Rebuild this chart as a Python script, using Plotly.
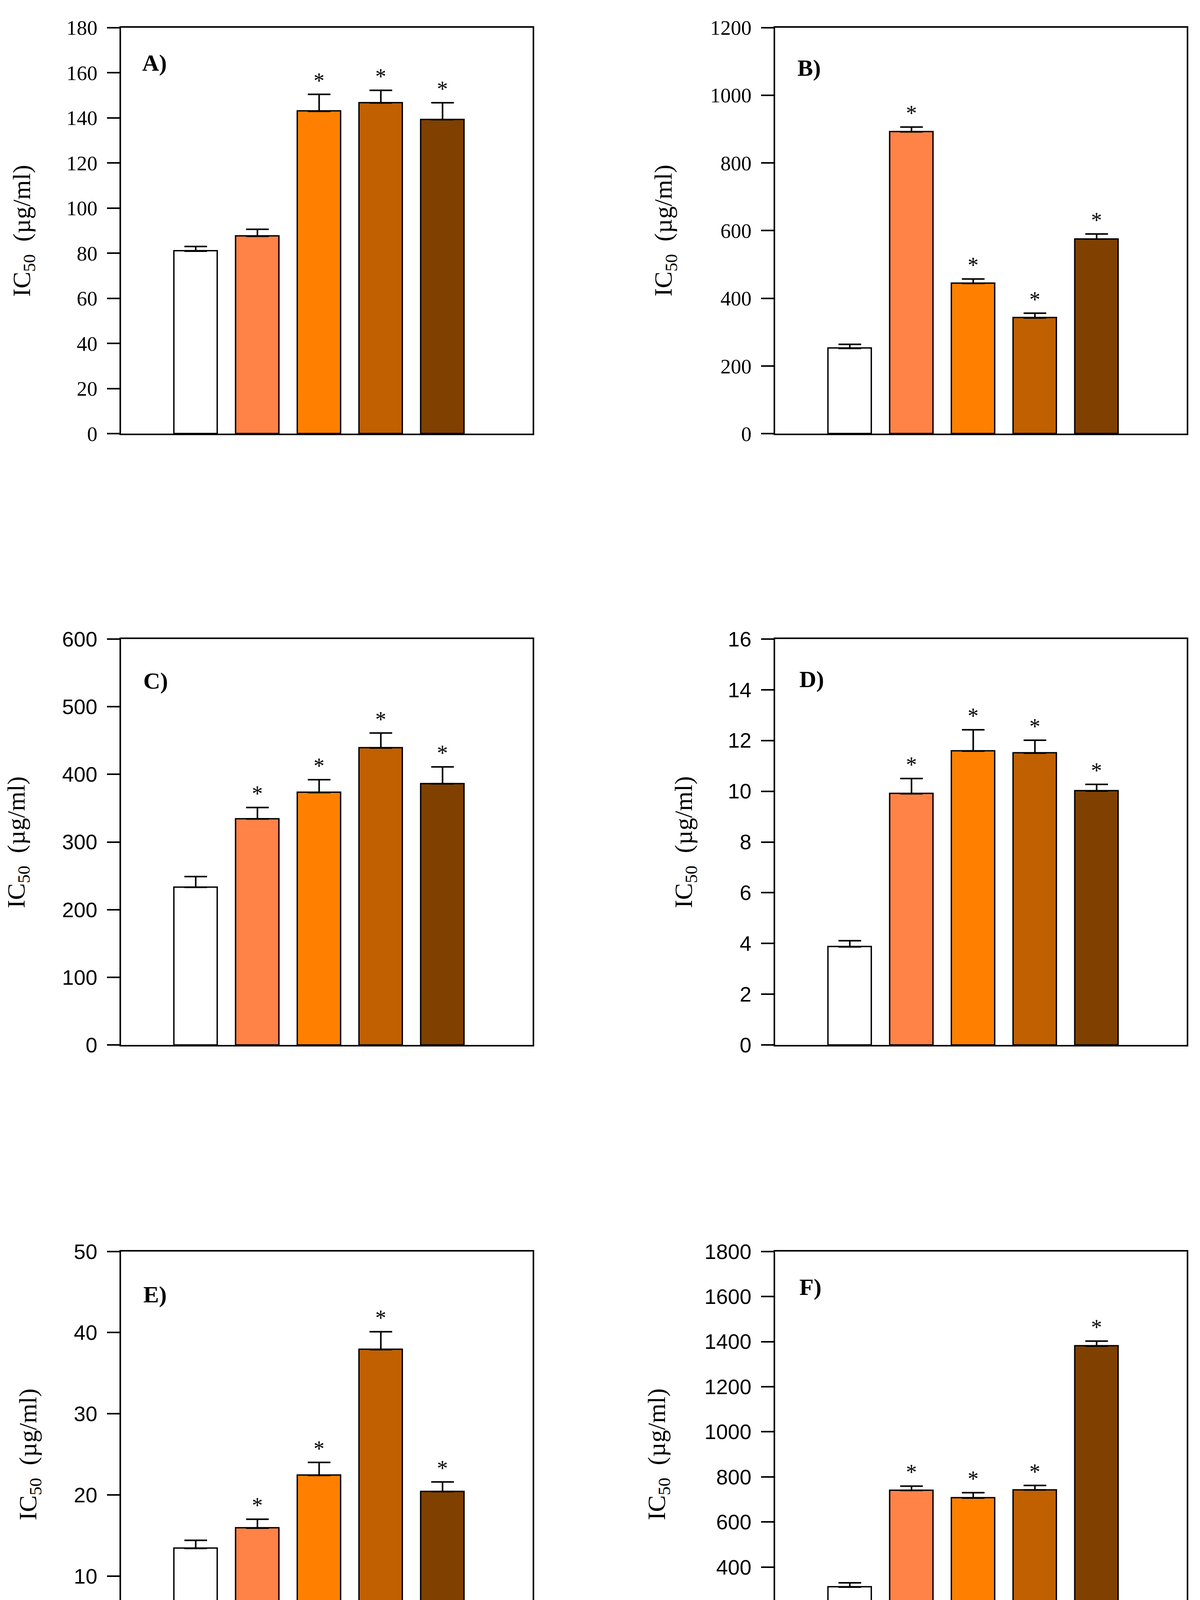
import plotly.graph_objects as go
from plotly.subplots import make_subplots

# === datos ===
groups = ["CTR", "C 123", "C 127", "C 129", "C 132"]
colors = ["#FFFFFF", "#FF8247", "#FF8000", "#C06000", "#804000"]

vals_a = [80.9, 87.5, 142.9, 146.6, 139.2]
errs_a = [2.1, 3.1, 7.5, 5.6, 7.5]
sig_a = [False, False, True, True, True]

vals_b = [252, 892, 444, 342, 575]
errs_b = [12, 14, 13, 14, 15]
sig_b = [False, True, True, True, True]

vals_c = [233, 334, 373, 439, 386]
errs_c = [16, 17, 19, 22, 25]
sig_c = [False, True, True, True, True]

vals_d = [3.87, 9.90, 11.58, 11.50, 10.01]
errs_d = [0.24, 0.60, 0.84, 0.51, 0.26]
sig_d = [False, True, True, True, True]

vals_e = [13.4, 15.9, 22.4, 37.9, 20.4]
errs_e = [1.0, 1.1, 1.6, 2.2, 1.2]
sig_e = [False, True, True, True, True]

vals_f = [311, 740, 706, 742, 1380]
errs_f = [19, 19, 24, 20, 22]
sig_f = [False, True, True, True, True]

panel_labels = ["A)", "B)", "C)", "D)", "E)", "F)"]
y_max = [180, 1200, 600, 16, 50, 1800]
y_step = [20, 200, 100, 2, 10, 200]

panels = [
    (vals_a, errs_a, sig_a),
    (vals_b, errs_b, sig_b),
    (vals_c, errs_c, sig_c),
    (vals_d, errs_d, sig_d),
    (vals_e, errs_e, sig_e),
    (vals_f, errs_f, sig_f),
]

# === tamaño y posiciones (px) ===
W, H = 3073, 4769
OFF = 8  # margen del body en la pagina html
col_x = [(310, 1364), (1985, 3039)]
row_y = [(41, 1094), (1626, 2679), (3214, 4266)]
title_x = [-0.237, -0.267, -0.251, -0.219, -0.222, -0.284]
label_pos = [(0.049, 0.913), (0.052, 0.901), (0.052, 0.897),
             (0.057, 0.901), (0.052, 0.894), (0.057, 0.912)]

SERIF = "Liberation Serif, Times New Roman, serif"
SANS = "Liberation Sans, Arial, sans-serif"

fig = make_subplots(rows=3, cols=2)

xpos = list(range(len(groups)))

for i, (vals, errs, sig) in enumerate(panels):
    r, c = i // 2 + 1, i % 2 + 1
    fig.add_trace(go.Bar(
        x=xpos, y=vals,
        width=0.70,
        marker=dict(color=colors, line=dict(color="black", width=3.5)),
        error_y=dict(type="data", array=errs, arrayminus=[0] * len(errs),
                     symmetric=False, color="black", thickness=4, width=29),
        showlegend=False,
    ), row=r, col=c)

    n = "" if i == 0 else str(i + 1)
    xref, yref = "x" + n, "y" + n

    # asteriscos de significancia
    for k, (v, e, s) in enumerate(zip(vals, errs, sig)):
        if s:
            fig.add_annotation(x=xpos[k], y=v + e, xref=xref, yref=yref,
                               text="*", showarrow=False, yanchor="bottom",
                               yshift=2, font=dict(family=SERIF, size=56, color="black"))

    # etiqueta del panel
    lx, ly = label_pos[i]
    fig.add_annotation(x=lx, y=ly, xref=xref + " domain", yref=yref + " domain",
                       text="<b>" + panel_labels[i] + "</b>", showarrow=False,
                       xanchor="left", yanchor="middle",
                       font=dict(family=SERIF, size=60, color="black"))

    # titulo eje y
    fig.add_annotation(x=title_x[i], y=0.5, xref=xref + " domain", yref=yref + " domain",
                       text="IC<sub>50</sub>  (µg/ml)", showarrow=False,
                       textangle=-90, xanchor="center", yanchor="middle",
                       font=dict(family=SERIF, size=64, color="black"))

    x0, x1 = col_x[c - 1]
    y0, y1 = row_y[r - 1]
    fig.update_xaxes(domain=[(x0 - OFF) / W, (x1 - OFF) / W], range=[-1.21, 5.46],
                     showticklabels=False, ticks="", showgrid=False, zeroline=False,
                     showline=True, linecolor="black", linewidth=4, mirror=True,
                     row=r, col=c)
    tick_font = SERIF if i < 2 else SANS
    tick_size = 53 if i < 2 else 54
    fig.update_yaxes(domain=[1 - (y1 - OFF) / H, 1 - (y0 - OFF) / H], range=[0, y_max[i]],
                     dtick=y_step[i], tick0=0, ticks="outside", ticklen=32,
                     tickwidth=4, tickcolor="black", ticklabelstandoff=14,
                     tickfont=dict(family=tick_font, size=tick_size, color="black"),
                     showgrid=False, zeroline=False,
                     showline=True, linecolor="black", linewidth=4, mirror=True,
                     row=r, col=c)

# === leyenda manual ===
leg_x0, leg_x1, leg_text_x = 1463, 1611, 1650
leg_y = [4370, 4454, 4537, 4621, 4705]
for name, col, yc in zip(groups, colors, leg_y):
    fig.add_shape(type="rect", xref="paper", yref="paper",
                  x0=(leg_x0 - OFF) / W, x1=(leg_x1 - OFF) / W,
                  y0=1 - (yc - OFF + 27) / H, y1=1 - (yc - OFF - 27) / H,
                  fillcolor=col, line=dict(color="black", width=4))
    fig.add_annotation(x=(leg_text_x - OFF) / W, y=1 - (yc - OFF) / H,
                       xref="paper", yref="paper",
                       text=name, showarrow=False, xanchor="left", yanchor="middle",
                       font=dict(family=SERIF, size=65, color="black"))

fig.update_layout(
    width=W, height=H,
    margin=dict(l=0, r=0, t=0, b=0),
    paper_bgcolor="white", plot_bgcolor="white",
    bargap=0,
    showlegend=False,
)

fig.write_html("out.html")
